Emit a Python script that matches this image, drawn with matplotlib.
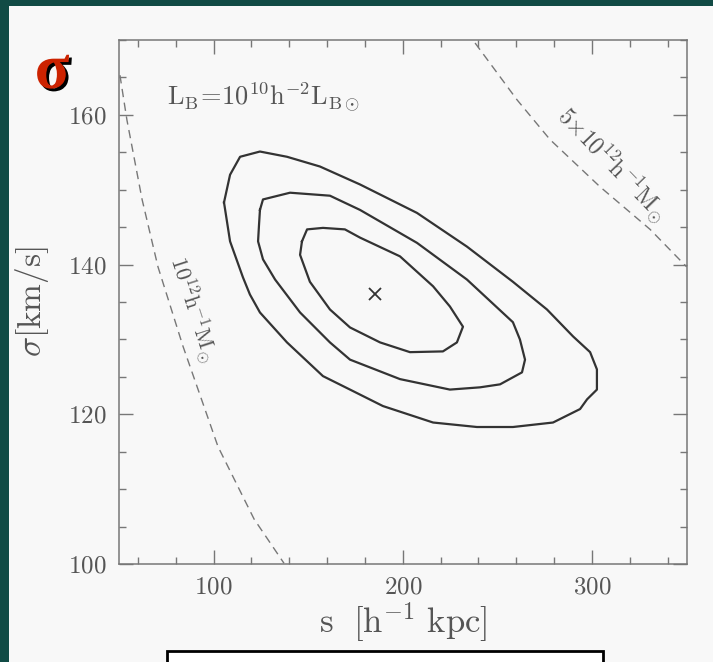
import matplotlib
matplotlib.use("Agg")
import matplotlib.pyplot as plt
import matplotlib.patheffects as pe
from matplotlib.patches import Rectangle
from matplotlib.ticker import MultipleLocator

plt.rcParams['mathtext.fontset'] = 'cm'
plt.rcParams['axes.formatter.use_mathtext'] = True

# contour levels (s [kpc/h], sigma [km/s])
outer_s = [105.5, 108.7, 114.0, 124.5, 138.8, 156.2, 177.4, 207.5, 233.9, 258.2, 276.2, 290.0,
           299.0, 302.6, 302.6, 297.4, 293.7, 279.4, 258.2, 239.2, 216.0, 189.5, 172.1, 157.8,
           138.8, 124.5, 119.2, 115.5, 108.7]
outer_sig = [148.3, 152.0, 154.4, 155.1, 154.4, 153.1, 150.7, 146.9, 142.4, 137.7, 134.0, 130.4,
             128.3, 126.0, 123.3, 122.0, 120.7, 118.9, 118.3, 118.3, 118.9, 121.1, 123.3, 125.1,
             129.6, 133.6, 136.0, 138.3, 143.1]

middle_s = [124.5, 126.1, 140.4, 161.5, 177.4, 207.5, 233.9, 258.2, 261.9, 264.6, 263.0, 251.4,
            240.8, 224.9, 198.5, 172.1, 161.5, 145.7, 132.5, 126.1, 123.5, 124.0]
middle_sig = [147.3, 148.7, 149.6, 149.2, 147.3, 142.9, 138.0, 132.3, 130.0, 127.3, 125.6, 124.0,
              123.6, 123.3, 124.7, 127.3, 129.6, 133.6, 138.0, 140.7, 143.1, 145.3]

inner_s = [146.7, 149.4, 157.8, 169.4, 177.4, 198.5, 216.0, 224.9, 231.8, 228.6, 221.2, 203.8,
           188.0, 172.1, 161.5, 150.9, 145.7]
inner_sig = [143.1, 144.7, 144.9, 144.7, 143.6, 141.1, 137.1, 134.4, 131.7, 129.6, 128.4, 128.3,
             129.6, 131.6, 134.0, 137.7, 141.3]

best_s, best_sig = 185.3, 136.1

# constant-mass curves
m1_s = [50.5, 54.2, 62.2, 70.6, 83.8, 102.3, 121.4, 137.2]
m1_sig = [165.3, 159.3, 148.7, 139.7, 129.1, 115.7, 106.0, 100.1]
m5_s = [238.2, 260.4, 277.8, 304.2, 330.7, 350.0]
m5_sig = [169.6, 162.0, 156.7, 150.4, 144.7, 139.7]

teal = '#114b45'
panel = '#f8f8f8'
txt = '#555555'

fig = plt.figure(figsize=(7.13, 6.62), dpi=100, facecolor=panel)
# teal slide border on the top and left
fig.patches.append(Rectangle((0, 0), 9 / 713, 1, transform=fig.transFigure,
                             facecolor=teal, edgecolor='none', zorder=-1))
fig.patches.append(Rectangle((0, 1 - 6 / 662), 1, 6 / 662, transform=fig.transFigure,
                             facecolor=teal, edgecolor='none', zorder=-1))

ax = fig.add_axes([119 / 713, 1 - 564 / 662, (686.6 - 119) / 713, (564 - 40) / 662])
ax.set_facecolor(panel)

for s, sig in [(outer_s, outer_sig), (middle_s, middle_sig), (inner_s, inner_sig)]:
    ax.plot(s + s[:1], sig + sig[:1], color='#333333', lw=1.6)
ax.plot([best_s], [best_sig], marker='x', color='#333333', ms=8, mew=1.3)

ax.plot(m1_s, m1_sig, color='#777777', lw=1.0, ls=(0, (6, 4)))
ax.plot(m5_s, m5_sig, color='#777777', lw=1.0, ls=(0, (6, 4)))

ax.text(75.5, 162.4, r'$\mathrm{L_B\!=\!10^{10}h^{-2}L_{B\odot}}$', fontsize=19, color=txt,
        va='center', ha='left')
ax.text(88.5, 134.0, r'$\mathrm{10^{12}h^{-1}M_{\odot}}$', fontsize=16, color=txt,
        rotation=-72, ha='center', va='center', rotation_mode='anchor')
ax.text(310.5, 153.4, r'$\mathrm{5{\times}10^{12}h^{-1}M_{\odot}}$', fontsize=17, color=txt,
        rotation=-46, ha='center', va='center', rotation_mode='anchor')

ax.set_xlim(50, 350)
ax.set_ylim(100, 170)
ax.xaxis.set_major_locator(MultipleLocator(100))
ax.xaxis.set_minor_locator(MultipleLocator(20))
ax.yaxis.set_major_locator(MultipleLocator(20))
ax.yaxis.set_minor_locator(MultipleLocator(5))
ax.tick_params(which='both', direction='in', top=True, right=True, color='#777777',
               labelcolor=txt, labelsize=18)
ax.tick_params(which='major', length=10, width=1.0, pad=9)
ax.tick_params(which='minor', length=5, width=1.0)
for lab in ax.get_xticklabels() + ax.get_yticklabels():
    lab.set_family('cmr10')
for sp in ax.spines.values():
    sp.set_color('#777777')
    sp.set_linewidth(1.1)

ax.set_xlabel(r'$\mathrm{s\ \ [h^{-1}\ kpc]}$', fontsize=25, color=txt, labelpad=1)
ax.set_ylabel(r'$\sigma\mathrm{[km/s]}$', fontsize=24, color=txt, labelpad=12)

# red sigma symbol with black shadow
fig.text(52 / 713, 1 - 73 / 662, 'σ', fontsize=46, color='#cc2200',
         ha='center', va='center', family='Liberation Serif', fontweight='bold',
         path_effects=[pe.withSimplePatchShadow(offset=(2, -2), shadow_rgbFace='black', alpha=1)])

# white box at the bottom
fig.patches.append(Rectangle((167 / 713, -0.05), (603 - 167) / 713, 0.05 + 11 / 662,
                             transform=fig.transFigure, facecolor='white', edgecolor='black',
                             lw=2, zorder=5))

fig.savefig('out.png', dpi=100, facecolor=panel)
